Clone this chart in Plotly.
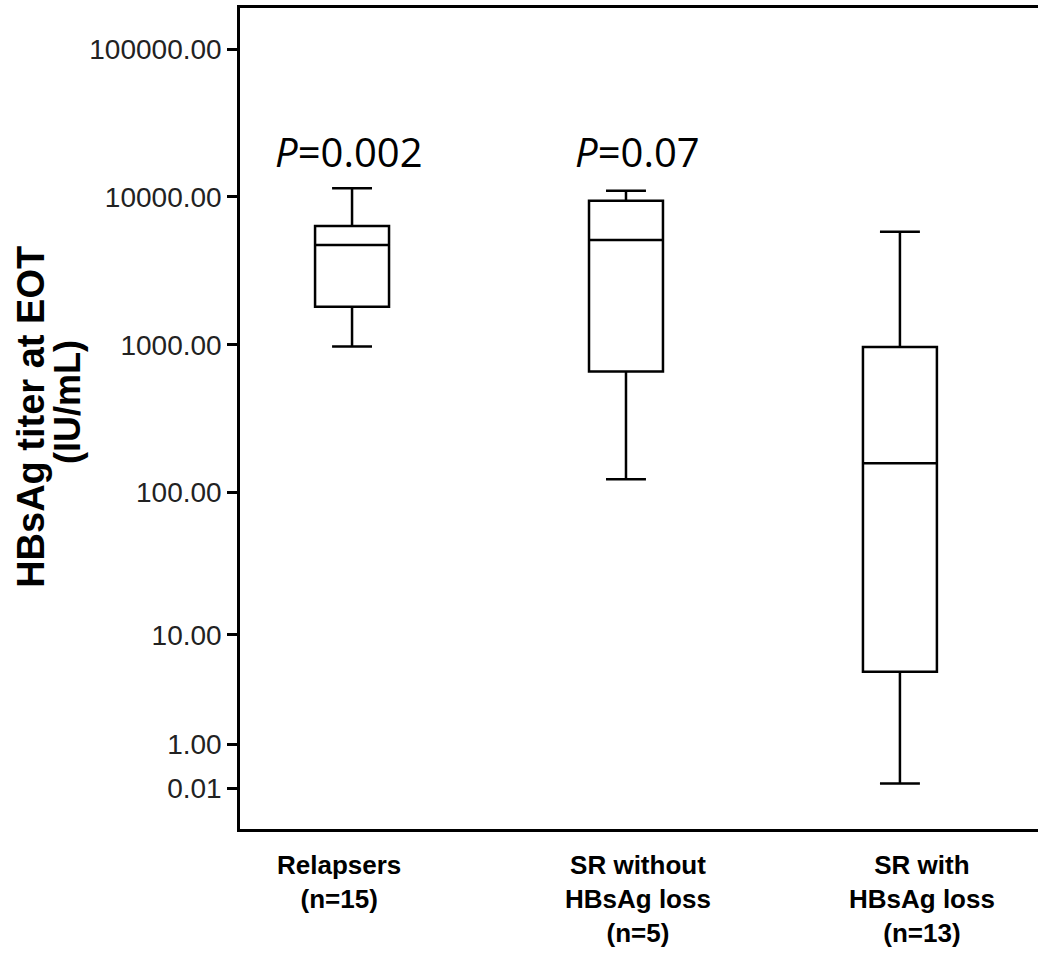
import numpy as np
import plotly.graph_objects as go

# Groups and HBsAg titers at end of treatment (IU/mL)
groups = ["Relapsers", "SR without HBsAg loss", "SR with HBsAg loss"]
group_labels = ["Relapsers<br>(n=15)", "SR without<br>HBsAg loss<br>(n=5)", "SR with<br>HBsAg loss<br>(n=13)"]
lower_whisker = [974, 123, 0.09]
q1 = [1814, 660, 5.2]
median = [4740, 5120, 158]
q3 = [6370, 9440, 968]
upper_whisker = [11450, 11030, 5830]

p_labels = ["<i>P</i>=0.002", "<i>P</i>=0.07"]

tick_values = [100000, 10000, 1000, 100, 10, 1, 0.01]


def tr(v):
    # log10(x + 1) scale, so that zero-level titers stay on the axis
    return np.log10(np.asarray(v, dtype=float) + 1.0)


fig = go.Figure()
for i, g in enumerate(groups):
    fig.add_trace(go.Box(
        x=[i],
        q1=[float(tr(q1[i]))],
        median=[float(tr(median[i]))],
        q3=[float(tr(q3[i]))],
        lowerfence=[float(tr(lower_whisker[i]))],
        upperfence=[float(tr(upper_whisker[i]))],
        name=g,
        width=0.27,
        whiskerwidth=0.54,
        fillcolor="white",
        line=dict(color="black", width=2.5),
        boxpoints=False,
        showlegend=False,
        hoverinfo="skip",
    ))

# group labels under the axis
label_shift = [-13, 12, 22]
for i, lab in enumerate(group_labels):
    fig.add_annotation(
        x=i, xref="x", y=0, yref="paper", yanchor="top", xanchor="center",
        xshift=label_shift[i], yshift=-19,
        text=lab, showarrow=False, align="center",
        font=dict(family="Liberation Sans, Arial", size=26, color="black", weight="bold"),
    )

# p-values above the first two groups
p_shift = [-3, 12]
for i, lab in enumerate(p_labels):
    fig.add_annotation(
        x=i, xref="x", y=4.31, yref="y", xanchor="center", yanchor="middle",
        xshift=p_shift[i], text=lab, showarrow=False,
        font=dict(family="Open Sans", size=40, color="black"),
    )

# y-axis title, two lines
fig.add_annotation(
    x=0, xref="paper", xshift=-209, y=0.502, yref="paper",
    text="<b>HBsAg titer at EOT</b>", textangle=-90, showarrow=False,
    xanchor="center", yanchor="middle",
    font=dict(family="Liberation Sans, Arial", size=38, color="black"),
)
fig.add_annotation(
    x=0, xref="paper", xshift=-173, y=0.52, yref="paper",
    text="<b>(IU/mL)</b>", textangle=-90, showarrow=False,
    xanchor="center", yanchor="middle",
    font=dict(family="Liberation Sans, Arial", size=36, color="black"),
)

fig.update_layout(
    width=1038, height=953,
    margin=dict(l=240, r=0, t=8, b=124),
    paper_bgcolor="white", plot_bgcolor="white",
    xaxis=dict(
        range=[-0.409, 2.504], showgrid=False, zeroline=False,
        showticklabels=False, ticks="",
        showline=True, linecolor="black", linewidth=2.5, mirror=True,
    ),
    yaxis=dict(
        range=[-0.2703, 5.277], showgrid=False, zeroline=False,
        tickvals=[float(v) for v in tr(tick_values)],
        ticktext=[f"{v:.2f}" for v in tick_values],
        ticks="outside", ticklen=10, tickwidth=2.5, tickcolor="black",
        tickfont=dict(family="Liberation Sans, Arial", size=28, color="#222222"),
        showline=True, linecolor="black", linewidth=2.5, mirror=False,
    ),
)

fig.write_html("out.html")
